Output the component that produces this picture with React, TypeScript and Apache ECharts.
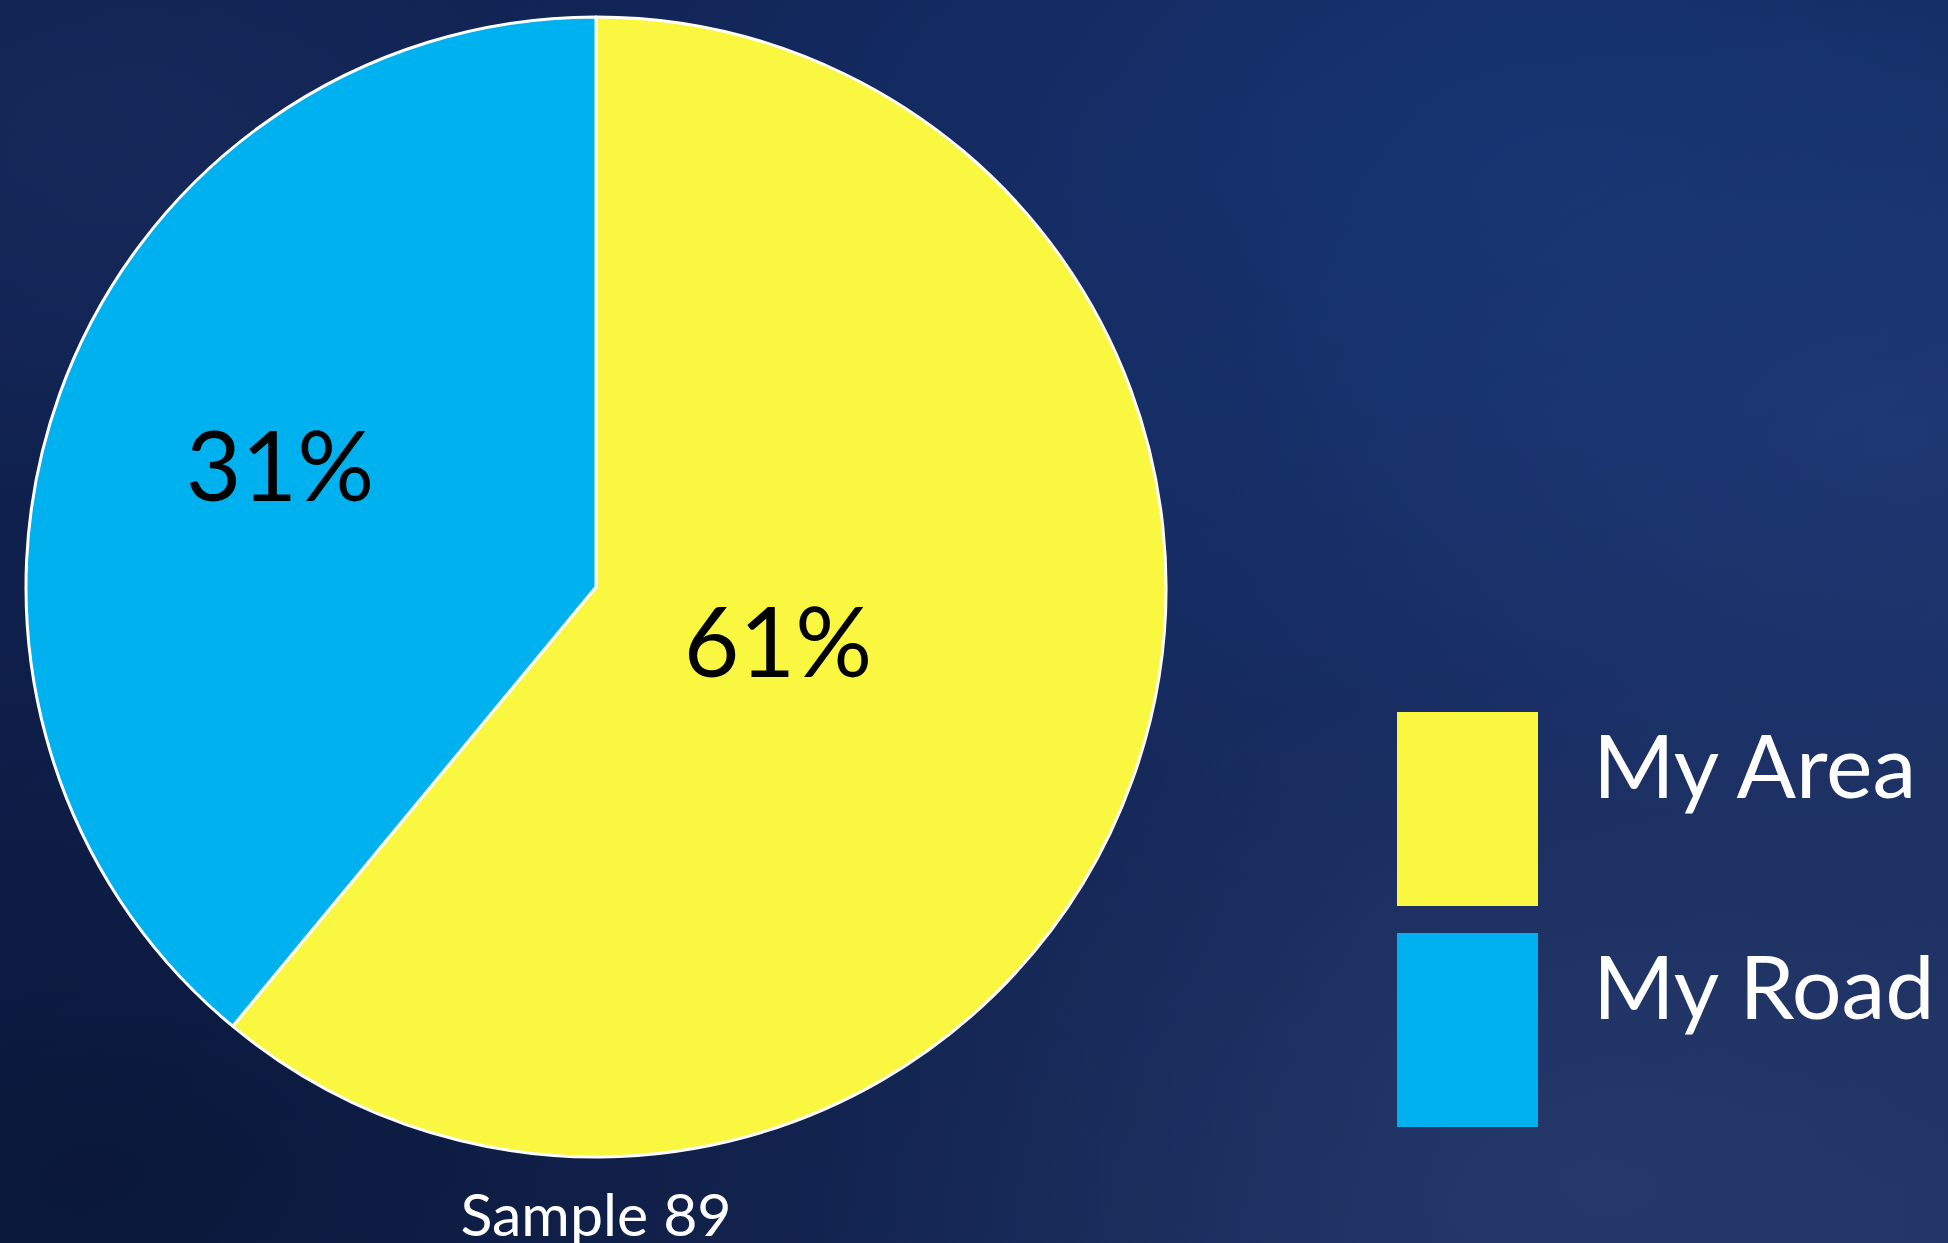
import React, { useEffect, useRef } from "react";
import * as echarts from "echarts";

const categories = ["My Area", "My Road"];
const sliceValues = [61, 39];
const sliceLabels = ["61%", "31%"];
const sliceColors = ["#faf741", "#00b1f0"];
const axisTitle = "Sample 89";

const W = 1948;
const H = 1243;

function glow(cx: number, cy: number, r: number, color: string, alpha: number) {
  return {
    type: "rect",
    shape: { x: 0, y: 0, width: W, height: H },
    silent: true,
    z: -10,
    style: {
      fill: {
        type: "radial",
        x: cx,
        y: cy,
        r,
        colorStops: [
          { offset: 0, color: `rgba(${color},${alpha})` },
          { offset: 1, color: `rgba(${color},0)` },
        ],
      },
    },
  };
}

export default function App() {
  const ref = useRef<HTMLDivElement>(null);
  useEffect(() => {
    document.body.style.margin = "0";
    const chart = echarts.init(ref.current!, null, { renderer: "svg" });
    const font = "Lato, 'Open Sans', sans-serif";
    const labelOffsets = [
      { dx: -89, dy: -45 },
      { dx: -45, dy: -26 },
    ];
    chart.setOption({
      animation: false,
      backgroundColor: {
        type: "linear",
        x: 0,
        y: 0,
        x2: 1,
        y2: 1,
        colorStops: [
          { offset: 0, color: "#0f1f4e" },
          { offset: 0.5, color: "#14295c" },
          { offset: 1, color: "#1f3264" },
        ],
      },
      graphic: [
        glow(0.05, 0.95, 0.7, "6,16,44", 0.7),
        glow(0.78, 0.12, 0.55, "24,58,125", 0.65),
        glow(0.97, 0.35, 0.35, "40,70,135", 0.35),
        glow(0.82, 0.95, 0.4, "55,75,125", 0.3),
        glow(0.05, 0.1, 0.3, "35,60,110", 0.3),
        {
          type: "text",
          x: 596,
          y: 1213,
          style: {
            text: axisTitle,
            fill: "#ffffff",
            font: `59px ${font}`,
            align: "center",
            verticalAlign: "middle",
          },
        },
      ],
      legend: {
        orient: "vertical",
        left: 1397,
        top: 712,
        padding: 0,
        icon: "rect",
        itemWidth: 141,
        itemHeight: 194,
        itemGap: 27,
        selectedMode: false,
        data: categories,
        itemStyle: { borderWidth: 0 },
        formatter: "{t|{name}}",
        textStyle: {
          color: "#ffffff",
          fontFamily: font,
          fontSize: 88,
          rich: {
            t: {
              color: "#ffffff",
              fontFamily: font,
              fontSize: 88,
              padding: [-45, 0, 45, 50],
            },
          },
        },
      },
      series: [
        {
          type: "pie",
          center: [596, 587],
          radius: 570,
          startAngle: 90,
          clockwise: true,
          itemStyle: { borderColor: "#ffffff", borderWidth: 3 },
          label: {
            show: true,
            position: "inside",
            color: "#000000",
            fontFamily: font,
            fontSize: 96,
            formatter: (p: any) => sliceLabels[p.dataIndex],
          },
          labelLine: { show: false },
          labelLayout: (p: any) => labelOffsets[p.dataIndex],
          data: categories.map((name, i) => ({
            name,
            value: sliceValues[i],
            itemStyle: { color: sliceColors[i] },
          })),
        },
      ],
    });
    return () => chart.dispose();
  }, []);
  return <div ref={ref} style={{ width: W, height: H }} />;
}
